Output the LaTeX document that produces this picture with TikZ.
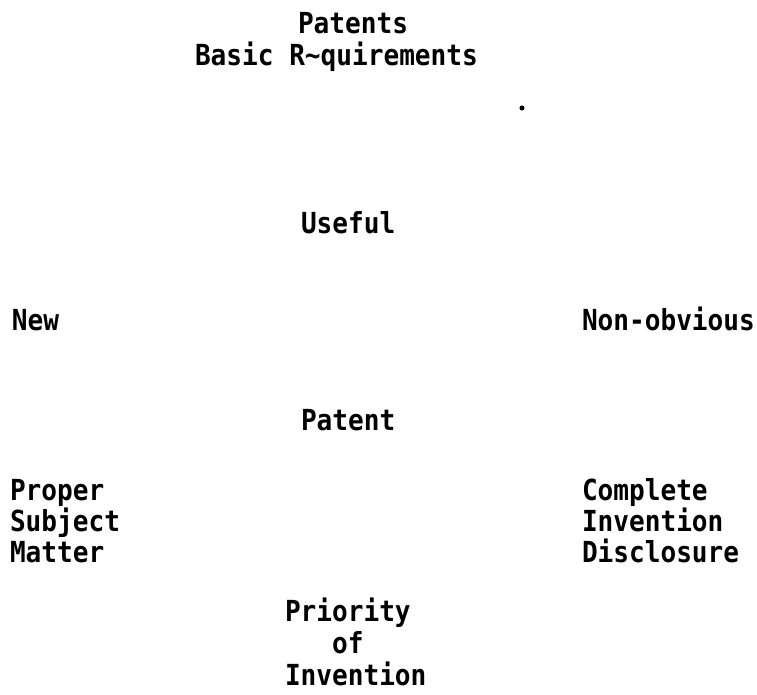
\documentclass[tikz,border=0pt]{standalone}
\usepackage{fontspec}
\newfontfamily\tw{DejaVu Sans Mono}[FakeStretch=0.9]
\begin{document}
\begin{tikzpicture}[x=1pt,y=-1pt,
  lbl/.style={anchor=base west, inner sep=0pt, outer sep=0pt, align=left,
    font=\tw\bfseries\fontsize{29pt}{31pt}\selectfont, text=black},
  wide/.style={font=\tw\bfseries\fontsize{29pt}{32pt}\selectfont},
  speck/.style={circle, fill=black, inner sep=1.8pt}]
\path[use as bounding box, fill=white] (0,0) rectangle (757,694);
% multi-line nodes: anchor base = baseline of the last line
\node[lbl] (t1) at (298,33) {Patents};
\node[lbl] (t2) at (195,65) {Basic R\textasciitilde quirements};
\node[speck] (dot) at (522,108) {};
\node[lbl] (useful) at (301,233) {Useful};
\node[lbl] (new) at (12,330) {New};
\node[lbl] (nonob) at (582,330) {Non-obvious};
\node[lbl] (patent) at (301,430) {Patent};
\node[lbl] (proper) at (10,562) {Proper\\Subject\\Matter};
\node[lbl] (complete) at (582,562) {Complete\\Invention\\Disclosure};
\node[lbl, wide] (priority) at (285,685) {Priority\\\phantom{Pri}of\\Invention};
\end{tikzpicture}
\end{document}
